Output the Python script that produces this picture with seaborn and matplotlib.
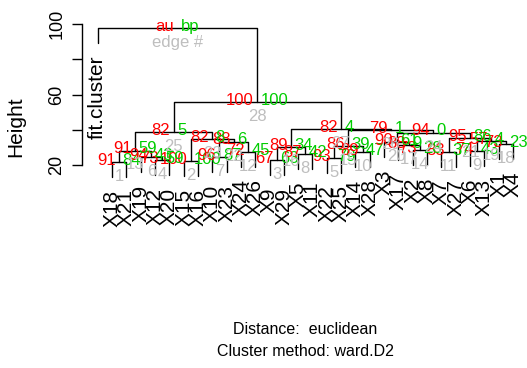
import numpy as np
import pandas as pd
import matplotlib
matplotlib.use('Agg')
import matplotlib.pyplot as plt
from matplotlib import font_manager
import seaborn as sns

# leaves in plotting order
leaf_order = ['fit.cluster', 'X18', 'X21', 'X19', 'X12', 'X20', 'X15', 'X16', 'X10', 'X23',
              'X24', 'X26', 'X9', 'X29', 'X5', 'X11', 'X22', 'X25', 'X14', 'X28', 'X3',
              'X17', 'X2', 'X8', 'X7', 'X27', 'X6', 'X13', 'X1', 'X4']

# merges (edge # = position + 1), children are leaf names or 'e<k>'
edge_left = ['X18', 'X15', 'X9', 'X12', 'X22', 'X19', 'X10', 'X5', 'X6', 'X14',
             'X7', 'X24', 'e1', 'X2', 'e5', 'e3', 'X17', 'X1', 'e9', 'X3',
             'e11', 'e7', 'e2', 'e20', 'e13', 'e15', 'e16', 'e25', 'fit.cluster']
edge_right = ['X21', 'X16', 'X29', 'X20', 'X25', 'e4', 'X23', 'X11', 'X13', 'X28',
              'X27', 'X26', 'e6', 'X8', 'e10', 'e8', 'e14', 'X4', 'e18', 'e17',
              'e19', 'e12', 'e22', 'e21', 'e23', 'e24', 'e26', 'e27', 'e28']
edge_height = [21.7, 22.3, 22.8, 22.8, 24.0, 24.5, 24.5, 26.2, 27.9, 27.4,
               27.4, 27.4, 28.2, 28.5, 30.8, 30.2, 31.3, 31.9, 33.6, 33.0,
               35.3, 33.3, 34.8, 38.4, 38.7, 39.6, 40.4, 55.7, 97.7]
au_vals = ['91', '100', '67', '73', '93', '94', '96', '87', '74', '89',
           '83', '72', '91', '73', '86', '89', '88', '73', '57', '90',
           '95', '88', '82', '94', '82', '79', '82', '100', 'au']
bp_vals = ['84', '100', '63', '59', '79', '43', '87', '42', '43', '47',
           '37', '45', '59', '28', '39', '34', '9', '23', '4', '61',
           '86', '6', '8', '0', '5', '1', '4', '100', 'bp']
edge_labels = [str(i) for i in range(1, 29)] + ['edge #']

y_ticks = [20, 40, 60, 80, 100]
y_ticklabels = ['20', '', '60', '', '100']


def has_font(fam):
    try:
        font_manager.findfont(font_manager.FontProperties(family=fam), fallback_to_default=False)
        return True
    except Exception:
        return False


sns.set_theme(style='white')
base_font = 'Liberation Sans' if has_font('Liberation Sans') else 'DejaVu Sans'
narrow_font = 'Liberation Sans Narrow' if has_font('Liberation Sans Narrow') else base_font
plt.rcParams['font.family'] = [base_font, 'DejaVu Sans']

RED, GREEN, GREY = '#FF0000', '#00CD00', '#BEBEBE'
hang = 8.5

# layout: x of leaves = index, node x = mean of children
xpos = {name: float(i) for i, name in enumerate(leaf_order)}
ypos = {}
segs = []
for k, (l, r, h) in enumerate(zip(edge_left, edge_right, edge_height), start=1):
    key = f'e{k}'
    xl, xr = xpos[l], xpos[r]
    yl = ypos.get(l, h - hang)
    yr = ypos.get(r, h - hang)
    xpos[key] = (xl + xr) / 2
    ypos[key] = h
    for j, (sx, sy) in enumerate([(xl, yl), (xl, h), (xr, h), (xr, yr)]):
        segs.append({'seg': k, 'order': j, 'x': sx, 'y': sy})
seg_df = pd.DataFrame(segs)

leaf_y = {}
for l, r, h in zip(edge_left, edge_right, edge_height):
    for c in (l, r):
        if c in leaf_order:
            leaf_y[c] = h - hang

fig = plt.figure(figsize=(5.27, 3.68), dpi=100)
ax = fig.add_axes([82 / 527, 1 - 180 / 368, 445 / 527, 160 / 368])

sns.lineplot(data=seg_df, x='x', y='y', units='seg', estimator=None, sort=False,
             color='black', linewidth=1.0, ax=ax, clip_on=False)

ax.set_xlim(-1.096, 29.98)
ax.set_ylim(11.49, 102.27)

for side in ['top', 'right', 'bottom']:
    ax.spines[side].set_visible(False)
ax.spines['left'].set_color('black')
ax.spines['left'].set_linewidth(1.0)
ax.spines['left'].set_bounds(20, 100)
ax.set_xticks([])
ax.set_yticks(y_ticks)
ax.set_yticklabels(y_ticklabels, rotation=90, va='center', fontsize=13)
ax.tick_params(axis='y', direction='out', length=7, width=1.0, color='black',
               left=True, pad=5, labelcolor='black')
ax.set_xlabel('')
ax.set_ylabel('')

# leaf labels
for name in leaf_order:
    ax.annotate(name, xy=(xpos[name], leaf_y[name]), xytext=(0, -9),
                textcoords='offset points', rotation=90, ha='center', va='top',
                fontsize=15, color='black', family=[base_font, 'DejaVu Sans'])

# au / bp / edge numbers
lift = 0.9
for k in range(1, len(edge_height) + 1):
    key = f'e{k}'
    x, y = xpos[key], ypos[key]
    ax.annotate(au_vals[k - 1], xy=(x, y + lift), xytext=(-2.5, 0), textcoords='offset points',
                ha='right', va='center', color=RED, fontsize=12, family=narrow_font)
    ax.annotate(bp_vals[k - 1], xy=(x, y + lift), xytext=(2.5, 0), textcoords='offset points',
                ha='left', va='center', color=GREEN, fontsize=12, family=narrow_font)
    ax.annotate(edge_labels[k - 1], xy=(x, y), xytext=(0, -5), textcoords='offset points',
                ha='center', va='top', color=GREY, fontsize=12, family=narrow_font)

fig.text(16 / 527, 1 - 127 / 368, 'Height', rotation=90, ha='center', va='center',
         fontsize=15, color='black')
fig.text(305 / 527, 1 - 329 / 368, 'Distance:  euclidean', ha='center', va='center',
         fontsize=11.5, color='black', family=narrow_font)
fig.text(305 / 527, 1 - 352 / 368, 'Cluster method: ward.D2', ha='center', va='center',
         fontsize=11.5, color='black', family=narrow_font)

fig.savefig('out.png', dpi=100, facecolor='white')
